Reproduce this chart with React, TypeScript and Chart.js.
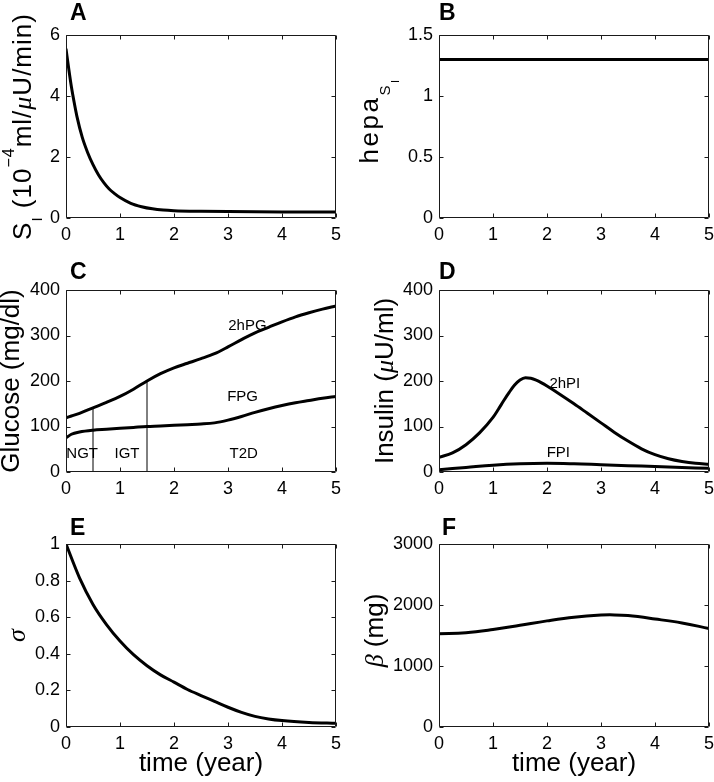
import React, { useEffect, useRef } from 'react';
import { Chart, registerables } from 'chart.js';

Chart.register(...registerables);

const SANS = '"Liberation Sans", Arial, Helvetica, sans-serif';
const SERIF = '"Liberation Serif", "DejaVu Serif", serif';

// ---------- data ----------
const xTicks = [0, 1, 2, 3, 4, 5];

// A: insulin sensitivity S_I
const timeA = [0, 0.05, 0.1, 0.15, 0.2, 0.3, 0.4, 0.5, 0.6, 0.7, 0.8, 0.9, 1.0, 1.2, 1.4, 1.6, 1.8, 2.0, 2.5, 3, 4, 5];
const siValues = [5.55, 4.9, 4.3, 3.8, 3.35, 2.65, 2.15, 1.75, 1.42, 1.16, 0.95, 0.8, 0.67, 0.48, 0.37, 0.3, 0.26, 0.24, 0.22, 0.21, 0.2, 0.2];
const yTicksA = [0, 2, 4, 6];

// B: hepa_SI
const timeB = [0, 5];
const hepaValues = [1.3, 1.3];
const yTicksB = [0, 0.5, 1, 1.5];

// C: glucose
const timeC = [0, 0.1, 0.25, 0.5, 0.75, 1, 1.25, 1.5, 1.75, 2, 2.25, 2.5, 2.75, 3, 3.25, 3.5, 3.75, 4, 4.25, 4.5, 4.75, 5];
const pg2h = [119, 123, 129, 141, 153, 166, 182, 200, 216, 229, 239, 249, 260, 275, 291, 306, 318, 330, 341, 350, 358, 365];
const fpg = [75, 83, 88, 92, 94, 96, 98, 100, 101, 102.5, 104, 105.5, 108, 114, 122, 131, 139, 146, 152, 157, 162, 166];
const stageBoundaryTimes = [0.5, 1.5];
const stageBoundaryTops = [141, 200];
const yTicksC = [0, 100, 200, 300, 400];
const labelsC = ['2hPG', 'FPG', 'NGT', 'IGT', 'T2D'];
const labelsCx = [3.36, 3.27, 0.3, 1.13, 3.29];
const labelsCy = [322, 165, 39, 39, 39];

// D: insulin
const timeD = [0, 0.25, 0.5, 0.75, 1, 1.1, 1.2, 1.3, 1.4, 1.5, 1.6, 1.7, 1.8, 1.9, 2, 2.25, 2.5, 2.75, 3, 3.25, 3.5, 3.75, 4, 4.25, 4.5, 4.75, 5];
const pi2h = [32, 42, 60, 86, 120, 138, 157, 175, 191, 202, 207, 206, 202, 196, 189, 170, 150, 129, 108, 87, 68, 51, 38, 29, 23, 19, 17];
const timeFPI = [0, 0.5, 1, 1.5, 2, 2.5, 3, 3.5, 4, 4.5, 5];
const fpi = [5, 10, 15, 18, 19, 18, 16, 14, 12, 10, 8];
const yTicksD = [0, 100, 200, 300, 400];
const labelsD = ['2hPI', 'FPI'];
const labelsDx = [2.33, 2.21];
const labelsDy = [194, 42];

// E: sigma
const timeE = [0, 0.25, 0.5, 0.75, 1, 1.25, 1.5, 1.75, 2, 2.25, 2.5, 2.75, 3, 3.25, 3.5, 3.75, 4, 4.5, 5];
const sigmaValues = [1.0, 0.815, 0.67, 0.56, 0.47, 0.395, 0.335, 0.285, 0.245, 0.205, 0.172, 0.14, 0.108, 0.08, 0.058, 0.044, 0.035, 0.025, 0.02];
const yTicksE = [0, 0.2, 0.4, 0.6, 0.8, 1];

// F: beta-cell mass
const timeF = [0, 0.5, 1, 1.5, 2, 2.5, 3, 3.25, 3.5, 4, 4.5, 5];
const betaValues = [1530, 1545, 1598, 1668, 1740, 1800, 1835, 1838, 1826, 1770, 1705, 1615];
const yTicksF = [0, 1000, 2000, 3000];

// ---------- helpers ----------
type Seg = { t: string; size?: number; shift?: number; italic?: boolean; serif?: boolean };
const pts = (xs: number[], ys: number[]) => xs.map((x, i) => ({ x, y: ys[i] }));

const curve = (data: { x: number; y: number }[], mono = true) => ({
  data,
  borderColor: '#000',
  borderWidth: 3,
  pointRadius: 0,
  fill: false,
  ...(mono ? { cubicInterpolationMode: 'monotone' as const } : { tension: 0.4 }),
});
const straight = (data: { x: number; y: number }[]) => ({
  data,
  borderColor: '#000',
  borderWidth: 1,
  pointRadius: 0,
  fill: false,
  tension: 0,
});

type PanelCfg = {
  letter: string;
  col: number;
  row: number;
  datasets: any[];
  yTicks: number[];
  title: Seg[];
  titleX: number;
  titleDy?: number;
  titleSpacing?: number;
  letterX: number;
  labels?: { text: string; x: number; y: number }[];
  xTitle?: boolean;
};

const rowTop = [0, 260, 515];
const rowH = [260, 255, 267];
const rowPadTop = [35, 30, 29];
const rowXAxisH = [42, 43, 55];
const rowLetterY = [20, 19, 20];
const colLeft = [0, 357];
const colW = 357;
const colYAxisW = [66, 82];
const colPadRight = [21, 5];

const fmt = (v: number) => String(Math.round(v * 1000) / 1000);

function makeDecor(cfg: PanelCfg) {
  return {
    id: 'panelDecor' + cfg.letter,
    afterDraw(chart: any) {
      const { ctx, chartArea: a, scales } = chart;
      const xs = scales.x;
      const ys = scales.y;
      ctx.save();
      ctx.strokeStyle = '#1a1a1a';
      ctx.lineWidth = 1;
      const L = Math.round(a.left) + 0.5;
      const R = Math.round(a.right) - 0.5;
      const T = Math.round(a.top) + 0.5;
      const B = Math.round(a.bottom) - 0.5;
      ctx.beginPath();
      ctx.rect(L, T, R - L, B - T);
      const tl = 4;
      xs.ticks.forEach((t: any) => {
        const p = Math.round(xs.getPixelForValue(t.value)) + 0.5;
        ctx.moveTo(p, B); ctx.lineTo(p, B - tl);
        ctx.moveTo(p, T); ctx.lineTo(p, T + tl);
      });
      ys.ticks.forEach((t: any) => {
        const p = Math.round(ys.getPixelForValue(t.value)) + 0.5;
        ctx.moveTo(L, p); ctx.lineTo(L + tl, p);
        ctx.moveTo(R, p); ctx.lineTo(R - tl, p);
      });
      ctx.stroke();

      // panel letter
      ctx.fillStyle = '#000';
      ctx.font = `bold 23px ${SANS}`;
      ctx.textBaseline = 'alphabetic';
      ctx.textAlign = 'left';
      ctx.fillText(cfg.letter, cfg.letterX, rowLetterY[cfg.row]);

      // curve labels
      ctx.font = `15px ${SANS}`;
      ctx.textAlign = 'center';
      ctx.textBaseline = 'middle';
      (cfg.labels || []).forEach((l) => {
        ctx.fillText(l.text, xs.getPixelForValue(l.x), ys.getPixelForValue(l.y));
      });

      // rotated rich y-axis title
      const segs = cfg.title;
      const fontOf = (s: Seg) =>
        `${s.italic ? 'italic ' : ''}${s.size || 26}px ${s.serif ? SERIF : SANS}`;
      const spacing = cfg.titleSpacing || 0;
      let total = 0;
      segs.forEach((s) => {
        ctx.font = fontOf(s);
        for (const ch of s.t) total += ctx.measureText(ch).width + spacing;
      });
      ctx.translate(cfg.titleX, (a.top + a.bottom) / 2 + (cfg.titleDy || 0));
      ctx.rotate(-Math.PI / 2);
      ctx.textAlign = 'left';
      ctx.textBaseline = 'alphabetic';
      let u = -total / 2;
      segs.forEach((s) => {
        ctx.font = fontOf(s);
        for (const ch of s.t) {
          ctx.fillText(ch, u, s.shift || 0);
          u += ctx.measureText(ch).width + spacing;
        }
      });
      ctx.restore();
    },
  };
}

const panels: PanelCfg[] = [
  {
    letter: 'A', col: 0, row: 0, letterX: 70,
    datasets: [curve(pts(timeA, siValues))],
    yTicks: yTicksA,
    title: [
      { t: 'S' },
      { t: 'I', size: 15, shift: 11 },
      { t: ' (10' },
      { t: '\u22124', size: 16, shift: -17 },
      { t: 'ml/' },
      { t: '\u03bc', italic: true, serif: true },
      { t: 'U/min)' },
    ],
    titleX: 31,
    titleSpacing: 1,
  },
  {
    letter: 'B', col: 1, row: 0, letterX: 82,
    datasets: [curve(pts(timeB, hepaValues))],
    yTicks: yTicksB,
    title: [
      { t: 'hepa' },
      { t: 'S', size: 15, shift: 12 },
      { t: 'I', size: 11, shift: 21 },
    ],
    titleX: 21,
    titleDy: -6,
    titleSpacing: 2.5,
  },
  {
    letter: 'C', col: 0, row: 1, letterX: 70,
    datasets: [
      curve(pts(timeC, pg2h)),
      curve(pts(timeC, fpg)),
      straight([{ x: stageBoundaryTimes[0], y: 0 }, { x: stageBoundaryTimes[0], y: stageBoundaryTops[0] }]),
      straight([{ x: stageBoundaryTimes[1], y: 0 }, { x: stageBoundaryTimes[1], y: stageBoundaryTops[1] }]),
    ],
    yTicks: yTicksC,
    title: [{ t: 'Glucose (mg/dl)' }],
    titleX: 19,
    labels: labelsC.map((text, i) => ({ text, x: labelsCx[i], y: labelsCy[i] })),
  },
  {
    letter: 'D', col: 1, row: 1, letterX: 82,
    datasets: [curve(pts(timeD, pi2h)), curve(pts(timeFPI, fpi), false)],
    yTicks: yTicksD,
    title: [{ t: 'Insulin (' }, { t: '\u03bc', italic: true, serif: true }, { t: 'U/ml)' }],
    titleX: 36,
    labels: labelsD.map((text, i) => ({ text, x: labelsDx[i], y: labelsDy[i] })),
  },
  {
    letter: 'E', col: 0, row: 2, letterX: 70,
    datasets: [curve(pts(timeE, sigmaValues))],
    yTicks: yTicksE,
    title: [{ t: '\u03c3', italic: true, serif: true }],
    titleX: 25,
    xTitle: true,
  },
  {
    letter: 'F', col: 1, row: 2, letterX: 85,
    datasets: [curve(pts(timeF, betaValues), false)],
    yTicks: yTicksF,
    title: [{ t: '\u03b2', italic: true, serif: true }, { t: ' (mg)' }],
    titleX: 26,
    titleDy: -5,
    xTitle: true,
  },
];

function Panel({ cfg }: { cfg: PanelCfg }) {
  const ref = useRef<HTMLCanvasElement>(null);
  const w = colW;
  const h = rowH[cfg.row];
  useEffect(() => {
    const yT = cfg.yTicks;
    const chart = new Chart(ref.current as HTMLCanvasElement, {
      type: 'line',
      data: { datasets: cfg.datasets },
      plugins: [makeDecor(cfg)],
      options: {
        animation: false,
        responsive: false,
        devicePixelRatio: 1,
        layout: {
          padding: { top: rowPadTop[cfg.row], right: colPadRight[cfg.col], left: 0, bottom: 0 },
        },
        plugins: {
          legend: { display: false },
          tooltip: { enabled: false },
        },
        scales: {
          x: {
            type: 'linear',
            min: xTicks[0],
            max: xTicks[xTicks.length - 1],
            afterBuildTicks: (s: any) => { s.ticks = xTicks.map((v) => ({ value: v })); },
            ticks: {
              color: '#000',
              font: { family: SANS, size: 18 },
              padding: 6,
              maxRotation: 0,
              autoSkip: false,
              callback: (v: any) => fmt(Number(v)),
            },
            grid: { display: false, drawTicks: false },
            border: { display: false },
            title: {
              display: !!cfg.xTitle,
              text: 'time (year)',
              color: '#000',
              font: { family: SANS, size: 26 },
              padding: { top: 0, bottom: 3 },
            },
            afterFit: (s: any) => {
              s.height = rowXAxisH[cfg.row];
              s.paddingLeft = 0;
              s.paddingRight = 0;
            },
          },
          y: {
            type: 'linear',
            min: yT[0],
            max: yT[yT.length - 1],
            afterBuildTicks: (s: any) => { s.ticks = yT.map((v) => ({ value: v })); },
            ticks: {
              color: '#000',
              font: { family: SANS, size: 18 },
              padding: 6,
              autoSkip: false,
              callback: (v: any) => fmt(Number(v)),
            },
            grid: { display: false, drawTicks: false },
            border: { display: false },
            afterFit: (s: any) => {
              s.width = colYAxisW[cfg.col];
              s.paddingTop = 0;
              s.paddingBottom = 0;
            },
          },
        },
      } as any,
    });
    return () => chart.destroy();
  }, []);
  return (
    <canvas
      ref={ref}
      width={w}
      height={h}
      style={{ position: 'absolute', left: colLeft[cfg.col], top: rowTop[cfg.row], width: w, height: h }}
    />
  );
}

export default function App() {
  return (
    <div style={{ position: 'absolute', left: 0, top: 0, width: 714, height: 782, background: '#fff' }}>
      {panels.map((p) => (
        <Panel key={p.letter} cfg={p} />
      ))}
    </div>
  );
}
